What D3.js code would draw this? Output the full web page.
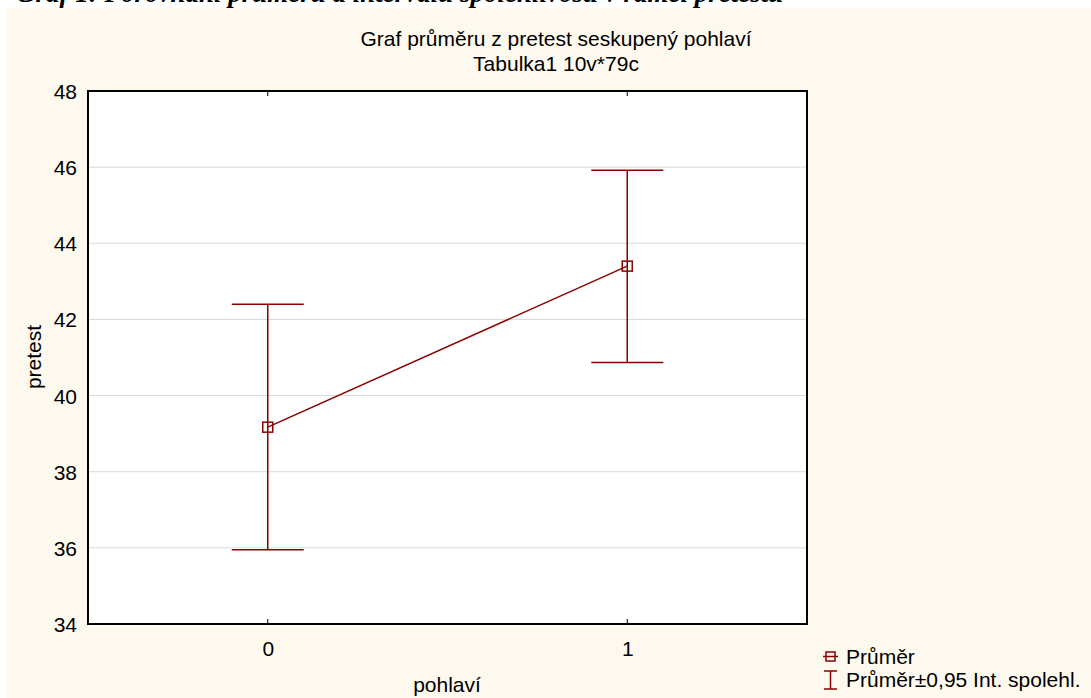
<!DOCTYPE html>
<html>
<head>
<meta charset="utf-8">
<script src="https://cdn.jsdelivr.net/npm/d3@7.9.0/dist/d3.min.js"></script>
<style>
  body { margin: 0; background: #fff; }
  text { font-family: 'Liberation Sans', Arial, sans-serif; fill: #000; }
</style>
</head>
<body>
<svg id="chart"></svg>
<script>
// data
const groups = [0, 1];
const means = [39.17, 43.4];
const ciLow = [35.95, 40.87];
const ciHigh = [42.4, 45.92];
const yTicks = [34, 36, 38, 40, 42, 44, 46, 48];

const width = 1091;
const height = 698;
const plot = { left: 88, top: 91, right: 807, bottom: 624 };
const red = '#8b0000';
const fs = '21px';

const svg = d3.select('#chart').attr('width', width).attr('height', height);

// cream page panel
svg.append('rect')
  .attr('x', 7).attr('y', 8)
  .attr('width', width - 7).attr('height', height - 8)
  .attr('fill', '#fef9ee');

// clipped caption from the document above the chart
svg.append('text')
  .attr('x', 16).attr('y', 2)
  .style('font-family', "'Liberation Serif', 'Times New Roman', serif")
  .style('font-style', 'italic')
  .style('font-weight', 'bold')
  .style('font-size', '27px')
  .text('Graf 1: Porovnání průměru a intervalu spolehlivosti v rámci pretestu');

// scales
const x = d3.scaleLinear().domain([-0.5, 1.5]).range([plot.left, plot.right]);
const y = d3.scaleLinear().domain([34, 48]).range([plot.bottom, plot.top]);

// plot background
svg.append('rect')
  .attr('x', plot.left).attr('y', plot.top)
  .attr('width', plot.right - plot.left).attr('height', plot.bottom - plot.top)
  .attr('fill', '#fff');

// grid lines
svg.append('g')
  .selectAll('line')
  .data(yTicks.slice(1, -1))
  .join('line')
  .attr('x1', plot.left).attr('x2', plot.right)
  .attr('y1', (d) => y(d)).attr('y2', (d) => y(d))
  .attr('stroke', '#d9d9d9')
  .attr('stroke-width', 1);

// axes
const yAxis = d3.axisLeft(y).tickValues(yTicks).tickSize(0).tickPadding(11);
svg.append('g')
  .attr('transform', `translate(${plot.left},0)`)
  .call(yAxis)
  .call((g) => g.select('.domain').remove())
  .selectAll('text')
  .style('font-size', fs)
  .attr('dy', '0.36em');

const xAxis = d3.axisBottom(x).tickValues(groups).tickFormat(d3.format('d')).tickSize(0).tickPadding(17);
svg.append('g')
  .attr('transform', `translate(0,${plot.bottom})`)
  .call(xAxis)
  .call((g) => g.select('.domain').remove())
  .selectAll('text')
  .style('font-size', fs);

// small inner tick marks on top and bottom
svg.append('g')
  .selectAll('line')
  .data(groups)
  .join('line')
  .attr('x1', (d) => x(d)).attr('x2', (d) => x(d))
  .attr('y1', plot.bottom).attr('y2', plot.bottom - 5)
  .attr('stroke', '#000');
svg.append('g')
  .selectAll('line')
  .data(groups)
  .join('line')
  .attr('x1', (d) => x(d)).attr('x2', (d) => x(d))
  .attr('y1', plot.top).attr('y2', plot.top + 5)
  .attr('stroke', '#000');

// frame
svg.append('rect')
  .attr('x', plot.left).attr('y', plot.top)
  .attr('width', plot.right - plot.left).attr('height', plot.bottom - plot.top)
  .attr('fill', 'none')
  .attr('stroke', '#000')
  .attr('stroke-width', 2);

// error bars
const capHalf = 36;
const bars = svg.append('g').attr('stroke', red).attr('stroke-width', 1.5).attr('fill', 'none');
groups.forEach((g, i) => {
  bars.append('line')
    .attr('x1', x(g)).attr('x2', x(g))
    .attr('y1', y(ciLow[i])).attr('y2', y(ciHigh[i]));
  bars.append('line')
    .attr('x1', x(g) - capHalf).attr('x2', x(g) + capHalf)
    .attr('y1', y(ciLow[i])).attr('y2', y(ciLow[i]));
  bars.append('line')
    .attr('x1', x(g) - capHalf).attr('x2', x(g) + capHalf)
    .attr('y1', y(ciHigh[i])).attr('y2', y(ciHigh[i]));
});

// mean line
const line = d3.line().x((d, i) => x(groups[i])).y((d) => y(d));
svg.append('path')
  .datum(means)
  .attr('d', line)
  .attr('fill', 'none')
  .attr('stroke', red)
  .attr('stroke-width', 1.5);

// mean markers
svg.append('g')
  .selectAll('rect')
  .data(means)
  .join('rect')
  .attr('x', (d, i) => x(groups[i]) - 5)
  .attr('y', (d) => y(d) - 5)
  .attr('width', 10).attr('height', 10)
  .attr('fill', 'none')
  .attr('stroke', red)
  .attr('stroke-width', 1.5);

// titles
svg.append('text')
  .attr('x', 556).attr('y', 46)
  .attr('text-anchor', 'middle')
  .style('font-size', fs)
  .text('Graf průměru z pretest seskupený pohlaví');
svg.append('text')
  .attr('x', 556).attr('y', 71)
  .attr('text-anchor', 'middle')
  .style('font-size', fs)
  .text('Tabulka1 10v*79c');

// axis titles
svg.append('text')
  .attr('transform', 'translate(41,357) rotate(-90)')
  .attr('text-anchor', 'middle')
  .style('font-size', fs)
  .text('pretest');
svg.append('text')
  .attr('x', 447).attr('y', 692)
  .attr('text-anchor', 'middle')
  .style('font-size', fs)
  .text('pohlaví');

// legend
const lg = svg.append('g');
lg.append('rect')
  .attr('x', 826).attr('y', 652).attr('width', 9).attr('height', 9)
  .attr('fill', 'none').attr('stroke', red).attr('stroke-width', 1.5);
lg.append('line')
  .attr('x1', 823).attr('x2', 838).attr('y1', 656.5).attr('y2', 656.5)
  .attr('stroke', red).attr('stroke-width', 1.5);
lg.append('text')
  .attr('x', 846).attr('y', 664)
  .style('font-size', fs)
  .text('Průměr');
lg.append('line')
  .attr('x1', 830.5).attr('x2', 830.5).attr('y1', 671).attr('y2', 689)
  .attr('stroke', red).attr('stroke-width', 1.5);
lg.append('line')
  .attr('x1', 824).attr('x2', 837).attr('y1', 671).attr('y2', 671)
  .attr('stroke', red).attr('stroke-width', 1.5);
lg.append('line')
  .attr('x1', 824).attr('x2', 837).attr('y1', 689).attr('y2', 689)
  .attr('stroke', red).attr('stroke-width', 1.5);
lg.append('text')
  .attr('x', 846).attr('y', 687)
  .style('font-size', fs)
  .text('Průměr±0,95 Int. spolehl.');
</script>
</body>
</html>
